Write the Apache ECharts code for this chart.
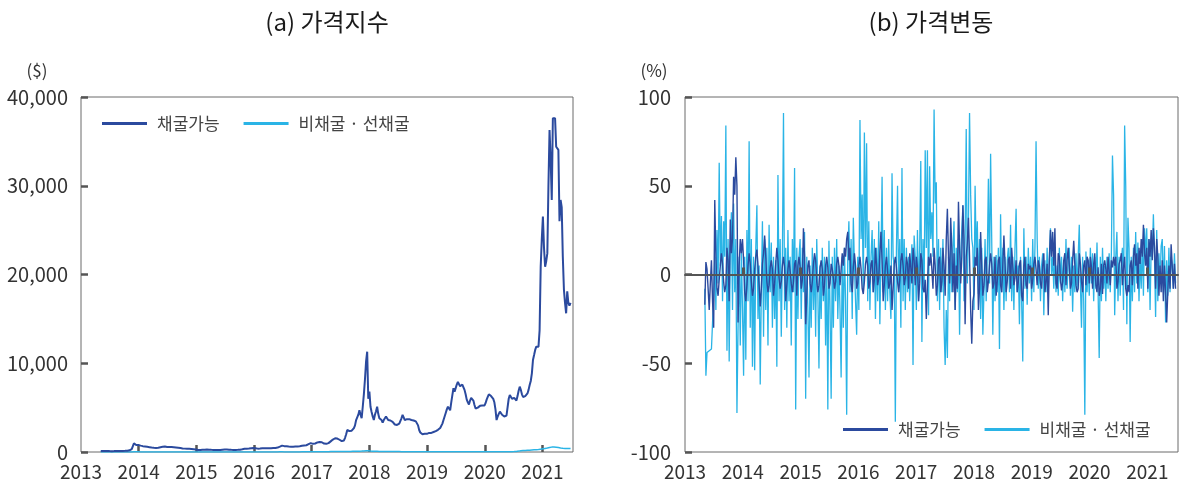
<!DOCTYPE html>
<html>
<head>
<meta charset="utf-8">
<script src="https://cdn.jsdelivr.net/npm/echarts@6/dist/echarts.min.js"></script>
<style>
  html, body { margin: 0; padding: 0; background: #fff; }
  #chart { width: 1180px; height: 486px; }
</style>
</head>
<body>
<div id="chart"></div>
<script>
// Weekly observations starting the week of 2013-05-06.
const firstWeek = Date.UTC(2013, 4, 6);

// Panel (a): price index, US dollars, one value per week (blocks by calendar year)
const minedIndex = [
  // 2013
  120,118,115,112,110,108,105,102,100,100, 98,100,102,105,108,110,112,115,118,120,
  125,130,135,140,150,165,190,230,320,520, 980,900,780,820,
  // 2014
  800,760,720,690,660,640,620,600,580,560, 540,520,500,480,470,460,450,455,470,500,
  530,560,580,600,610,590,570,560,570,565, 550,540,530,520,500,480,470,460,440,420,
  400,390,380,370,360,350,355,360,350,340, 320,300,
  // 2015
  280,260,230,220,225,235,240,245,250,260, 270,265,260,250,240,235,230,232,235,230,
  228,225,230,240,250,260,270,280,285,275, 260,250,240,232,230,232,235,238,240,250,
  260,275,300,330,360,380,370,360,390,420, 430,440,
  // 2016
  440,430,420,400,380,385,395,410,420,425, 415,410,412,415,420,425,430,440,450,455,
  460,480,500,540,600,680,720,700,660,650, 660,640,620,600,590,580,590,600,610,615,
  620,630,650,660,700,720,730,740,760,800, 880,960,
  // 2017
  1000,980,920,900,960,1050,1080,1100,1130,1160, 1100,1020,950,900,920,960,1000,1080,1200,1300,
  1400,1480,1550,1600,1520,1450,1380,1300,1220,1160, 1300,1600,2000,2480,2400,2350,2300,2400,2600,2700,
  3000,3600,3900,4200,4700,4200,3800,5100,6500,8200, 10200,11300,
  // 2018
  6000,6800,5100,4500,4000,3600,4200,4600,5100,4300, 3800,3700,3600,3300,3600,3800,4000,3900,3600,3500,
  3550,3600,3400,3200,3100,3000,3050,3100,3200,3400, 3800,4180,3900,3600,3500,3700,3800,3700,3650,3600,
  3600,3550,3500,3450,3400,3000,2480,2200,2100,2000, 2100,2050,
  // 2019
  2100,2050,2100,2150,2100,2150,2200,2250,2300,2350, 2400,2500,2600,2700,2850,3200,3600,4000,4400,4800,
  5100,5000,4700,5600,6400,7180,6800,7200,7600,7900, 8100,7400,7500,7600,7400,7000,6500,5900,5600,5350,
  5800,6100,6300,5800,5300,4900,4860,5000,5100,5200, 5100,5240,
  // 2020
  5200,5240,5500,5900,6200,6500,6550,6300,6100,5980, 5600,4800,3600,4000,4300,4540,4400,4200,4100,4000,
  3980,4100,4180,6000,6420,6200,6000,5980,6100,6050, 5800,6300,6900,7360,7000,6500,6200,6250,6300,6300,
  6600,7000,7550,8000,8860,10370,10930,11500,11870,11700, 11870,13700,
  // 2021
  20880,24000,26520,23000,20880,21500,22380,30000,36290,33000, 28400,37600,37500,37600,34400,34200,34040,26000,28400,27600,
  22000,18300,16800,15630,18100,16800,16500,16800
];

const otherIndex = [
  // 2013
  5,5,4,4,4,4,4,4,4,4, 4,4,4,4,4,4,4,5,5,5, 5,5,5,5,6,6,7,8,10,14, 22,18,15,16,
  // 2014
  15,14,13,12,12,11,11,10,10,10, 9,9,9,8,8,8,8,8,9,9, 9,9,9,9,9,9,8,8,8,8,
  8,8,8,7,7,7,7,7,7,7, 7,6,6,6,6,6,6,6,6,6, 6,5,
  // 2015
  5,5,4,4,4,4,4,4,4,4, 4,4,4,4,4,4,4,4,4,4, 4,4,4,4,4,4,4,4,4,4,
  4,4,4,4,4,4,4,4,4,4, 4,4,4,5,5,5,5,5,5,5, 5,5,
  // 2016
  5,5,5,5,6,6,6,7,8,9, 10,11,12,12,13,13,12,12,12,12, 13,13,13,14,15,16,15,14,14,14,
  14,13,13,13,13,13,14,14,14,14, 14,14,14,14,15,15,15,16,16,16, 17,18,
  // 2017
  15,15,16,16,17,18,19,20,21,22, 24,26,28,30,32,34,38,42,46,50, 54,56,58,55,52,50,48,47,48,50,
  52,54,56,58,60,62,64,68,72,76, 80,84,88,92,96,100,104,110,116,124, 132,140,
  // 2018
  130,120,105,95,90,85,80,78,76,72, 70,68,66,62,60,58,60,62,60,58, 56,54,52,50,48,47,46,45,44,43,
  42,42,41,40,40,39,38,37,36,35, 34,33,32,31,30,28,26,24,22,21, 20,20,
  // 2019
  20,20,20,20,20,20,20,20,21,21, 22,22,23,24,25,26,28,30,32,34, 36,36,35,34,33,32,31,30,30,30,
  29,29,28,28,27,27,26,26,25,25, 24,24,24,23,23,22,22,22,22,22, 22,22,
  // 2020
  22,22,23,23,24,24,24,23,22,21, 20,19,18,18,19,20,21,22,23,24, 25,26,28,30,32,35,38,42,46,52,
  60,80,100,130,150,160,170,175,180,185, 190,195,200,210,220,230,240,250,260,270, 280,300,
  // 2021
  320,340,360,380,400,420,440,470,500,530, 550,560,555,560,540,520,500,480,450,430,
  420,410,400,390,400,410,400,390
];

// Panel (b): weekly price change, percent
const minedChange = [
  // 2013
  -17,7,3,-8,-20,-5,8,-15,-30,42, 10,-8,-12,-3,5,12,6,-4,-10,-6, 15,8,-15,31,12,20,55,45,66,50, -27,5,20,12,
  // 2014
  20,8,-10,-15,-6,5,12,6,-4,-12, -8,3,10,14,5,-6,-18,-8,6,12, 22,10,-4,-10,-6,4,8,3,-12,-5,
  6,15,8,-2,-8,-4,5,10,4,-15, -6,3,8,2,-5,-10,-4,6,8,-12, 5,10,
  // 2015
  4,-8,-3,26,10,-28,-12,5,8,-5, -10,-4,6,12,8,-4,-10,-6,4,8, 3,-12,-6,5,10,4,-8,-5,6,3,
  -2,-8,-4,6,10,5,-6,3,12,5, 15,10,20,24,8,15,-5,-10,4,12, 5,-8,
  // 2016
  -5,5,10,3,-8,-11,-4,6,10,5, -8,-4,6,8,-10,-3,15,5,-6,-2, 12,24,8,-15,-6,5,10,2,-8,-5,
  5,-20,-8,6,10,4,-4,-10,-3,8, 12,5,-6,-2,10,6,-8,12,4,-5, 15,8,
  // 2017
  -6,10,4,-15,-5,12,8,-8,-10,-3, -25,-6,10,5,12,3,-8,15,5,-12, -6,8,10,-10,-4,15,5,-12,20,37,
  10,-5,32,15,-10,12,-20,5,-8,41, 15,-5,10,39,20,-28,10,18,32,10, -20,-39,
  // 2018
  -15,-11,10,5,15,-20,-8,24,5,-12, -6,8,10,-10,-4,5,12,6,-8,-5, 10,-12,-4,8,10,-6,-10,5,22,6,
  -10,-4,8,10,-8,15,5,-6,-2,8, -10,-4,6,8,-12,-15,5,10,-6,-8, 6,3,
  // 2019
  5,-8,-3,6,10,3,-6,8,5,-5, -8,5,12,-10,-4,6,-23,8,25,10, 24,5,26,-5,-8,12,10,-3,-9,-4,
  8,12,-6,8,15,5,-8,-5,8,19, 5,-6,-10,-8,12,6,-4,-10,5,8, -6,10,
  // 2020
  8,-5,10,4,-8,6,12,-6,-10,4, -12,-8,6,-11,5,8,3,-5,10,11, -6,8,4,10,5,10,-8,-4,6,8,
  12,-6,4,10,-8,-12,-6,-10,5,8, -6,10,17,5,12,-8,15,6,20,10, 28,12,
  // 2021
  5,15,-8,20,10,25,8,26,15,-8, 20,10,-12,5,-10,8,-15,5,-10,-27, -10,5,-8,17,5,-8,6,-8
];

const otherChange = [
  // 2013
  -8,-57,-44,-43,-43,-42,-42,-41,-12,10, -20,25,-5,63,5,33,-15,30,10,84, -43,20,-49,15,35,-20,40,-10,20,-78, -30,10,-40,15,
  // 2014
  -20,-57,10,-48,25,-15,75,-30,20,-52, 10,-54,15,39,-25,5,-62,-10,30,-35, 20,-20,15,-40,28,-10,18,-30,10,-25,
  8,-52,56,-15,20,-35,10,91,-20,15, -30,25,-15,10,-40,20,-10,60,-76,15, -25,10,
  // 2015
  20,-25,15,-10,24,-70,10,-20,-58,5, -30,15,-20,10,-35,20,-10,-53,5,-25, 15,-15,10,-40,8,-76,19,-20,-70,10,
  -30,15,-15,20,-25,5,-20,-58,10,-30, 15,-15,-79,10,30,-10,20,-25,32,5, -15,-34,
  // 2016
  10,-20,87,20,45,-10,80,15,74,-15, 30,-20,10,25,-10,20,-25,15,-15,30, -28,10,55,-10,25,-20,15,-15,20,-10,
  -25,57,10,5,-83,15,50,-10,20,-30, 60,-15,20,-20,15,-10,10,-15,5,17, -51,22,
  // 2017
  10,-20,25,-15,15,64,-38,20,-10,70, 15,70,-23,61,20,35,10,93,40,52, -15,20,-20,15,-10,20,-30,-51,-20,-47,
  10,-15,20,-10,15,30,-20,15,-10,20, -34,10,25,39,-15,20,82,-5,30,91, 45,20,
  // 2018
  15,-20,50,10,30,-11,20,-25,15,-34, -10,20,-15,10,54,-5,68,20,-34,10, -15,11,-10,15,-42,34,-10,15,-20,10,
  -15,8,15,-10,28,-15,10,-20,15,37, -10,5,-28,10,-15,-49,26,-8,10,-17, 15,-5,
  // 2019
  10,-15,20,-10,15,75,20,-8,10,-15, 5,12,-23,8,-10,15,-11,10,26,0, 10,-8,12,-10,5,-12,15,-5,10,-15,
  8,-10,20,-8,5,15,-12,10,-21,5, -10,12,-8,10,28,-5,-30,10,-15,-79, 13,-10,
  // 2020
  8,-12,15,-5,12,-15,10,-8,18,-10, -47,10,-15,15,-8,5,-15,10,-8,12, -10,12,67,45,-23,10,24,-15,10,-12,
  8,15,-20,84,50,-28,32,15,-38,10, -15,15,-10,24,-5,18,-15,10,-8,20, -12,26,
  // 2021
  10,26,-10,20,-20,15,10,34,10,-24, 25,-15,12,-5,16,20,-10,16,-27,8, -12,15,-10,10,5,-8,12,-5
];

const yearTicks = [2013, 2014, 2015, 2016, 2017, 2018, 2019, 2020, 2021];
const seriesNames = ['채굴가능', '비채굴 · 선채굴'];

// Convert a timestamp to a fractional calendar year for the value-type time axis.
function toYear(t) {
  const y = new Date(t).getUTCFullYear();
  const s = Date.UTC(y, 0, 1), e = Date.UTC(y + 1, 0, 1);
  return y + (t - s) / (e - s);
}
const weekYears = minedIndex.map((_, i) => toYear(firstWeek + i * 7 * 86400000));
const pairs = vals => vals.map((v, i) => [weekYears[i], v]);

const FONT = '"Noto Sans CJK KR", "Noto Sans", sans-serif';
const DARK = '#2b4a9e';
const LIGHT = '#2ab4e6';
const TICK = '#555';
const TEXT = '#333';

const xMin = yearTicks[0];
const xMax = 2021.53;
const innerYears = yearTicks.slice(1);

function yearAxis(grid, extra) {
  return Object.assign({
    gridIndex: grid, type: 'value', position: 'bottom',
    min: xMin, max: xMax, interval: 1,
    axisLine: { show: false, onZero: false },
    axisTick: { show: true, inside: true, length: 7, customValues: innerYears,
                lineStyle: { color: TICK, width: 2.5 } },
    axisLabel: {
      margin: 10, fontSize: 19, color: TEXT, fontFamily: FONT,
      customValues: yearTicks, formatter: v => String(Math.round(v))
    },
    splitLine: { show: false }
  }, extra || {});
}

const lineSeries = (name, color, width, xi, yi, data, z) => ({
  name, type: 'line', xAxisIndex: xi, yAxisIndex: yi, data,
  showSymbol: false, symbol: 'none', z,
  lineStyle: { color, width }, itemStyle: { color },
  emphasis: { disabled: true }
});

const legendBase = {
  data: seriesNames, icon: 'rect', itemWidth: 45, itemHeight: 3, itemGap: 24,
  textStyle: { fontSize: 17, color: '#444', fontFamily: FONT, padding: [0, 0, 0, 5] },
  selectedMode: false
};

const chart = echarts.init(document.getElementById('chart'), null, { renderer: 'canvas' });
chart.setOption({
  animation: false,
  backgroundColor: '#fff',
  textStyle: { fontFamily: FONT },
  title: [
    { text: '(a) 가격지수', left: 327, top: 7, textAlign: 'center', padding: 0,
      textStyle: { fontSize: 24, fontWeight: 'normal', color: '#1a1a1a', lineHeight: 30, fontFamily: FONT } },
    { text: '(b) 가격변동', left: 931, top: 7, textAlign: 'center', padding: 0,
      textStyle: { fontSize: 24, fontWeight: 'normal', color: '#1a1a1a', lineHeight: 30, fontFamily: FONT } },
    { text: '($)', left: 37, top: 61, textAlign: 'center', padding: 0,
      textStyle: { fontSize: 17, fontWeight: 'normal', color: TEXT, lineHeight: 20, fontFamily: FONT } },
    { text: '(%)', left: 654, top: 61, textAlign: 'center', padding: 0,
      textStyle: { fontSize: 17, fontWeight: 'normal', color: TEXT, lineHeight: 20, fontFamily: FONT } }
  ],
  legend: [
    Object.assign({ left: 97, top: 110 }, legendBase),
    Object.assign({ left: 838, top: 416 }, legendBase)
  ],
  grid: [
    { left: 81, top: 97, width: 492, height: 355, show: true, borderColor: '#6a6a6a', borderWidth: 1, backgroundColor: 'transparent' },
    { left: 685, top: 97, width: 493, height: 355, show: true, borderColor: '#6a6a6a', borderWidth: 1, backgroundColor: 'transparent' }
  ],
  xAxis: [
    yearAxis(0),
    yearAxis(1, { axisTick: { show: false } }),
    // zero line of panel (b) with its year ticks, kept above the series
    yearAxis(1, {
      z: 10,
      axisLine: { show: true, onZero: true, lineStyle: { color: TICK, width: 2 } },
      axisTick: { show: true, inside: true, length: 7, customValues: innerYears,
                  lineStyle: { color: TICK, width: 3 } },
      axisLabel: { show: false }
    })
  ],
  yAxis: [
    {
      gridIndex: 0, type: 'value', min: 0, max: 40000, interval: 10000,
      axisLine: { show: false },
      axisTick: { show: true, inside: true, length: 7, lineStyle: { color: TICK, width: 2.5 } },
      axisLabel: { margin: 13, fontSize: 20, color: TEXT, fontFamily: FONT, formatter: v => v.toLocaleString('en-US') },
      splitLine: { show: false }
    },
    {
      gridIndex: 1, type: 'value', min: -100, max: 100, interval: 50,
      axisLine: { show: false },
      axisTick: { show: true, inside: true, length: 7, lineStyle: { color: TICK, width: 2.5 } },
      axisLabel: { margin: 14, fontSize: 20, color: TEXT, fontFamily: FONT },
      splitLine: { show: false }
    }
  ],
  series: [
    lineSeries(seriesNames[1], LIGHT, 1.5, 0, 0, pairs(otherIndex), 2),
    lineSeries(seriesNames[0], DARK, 2, 0, 0, pairs(minedIndex), 3),
    lineSeries(seriesNames[1], LIGHT, 1.3, 1, 1, pairs(otherChange), 2),
    lineSeries(seriesNames[0], DARK, 1.4, 1, 1, pairs(minedChange), 3)
  ]
});
</script>
</body>
</html>
